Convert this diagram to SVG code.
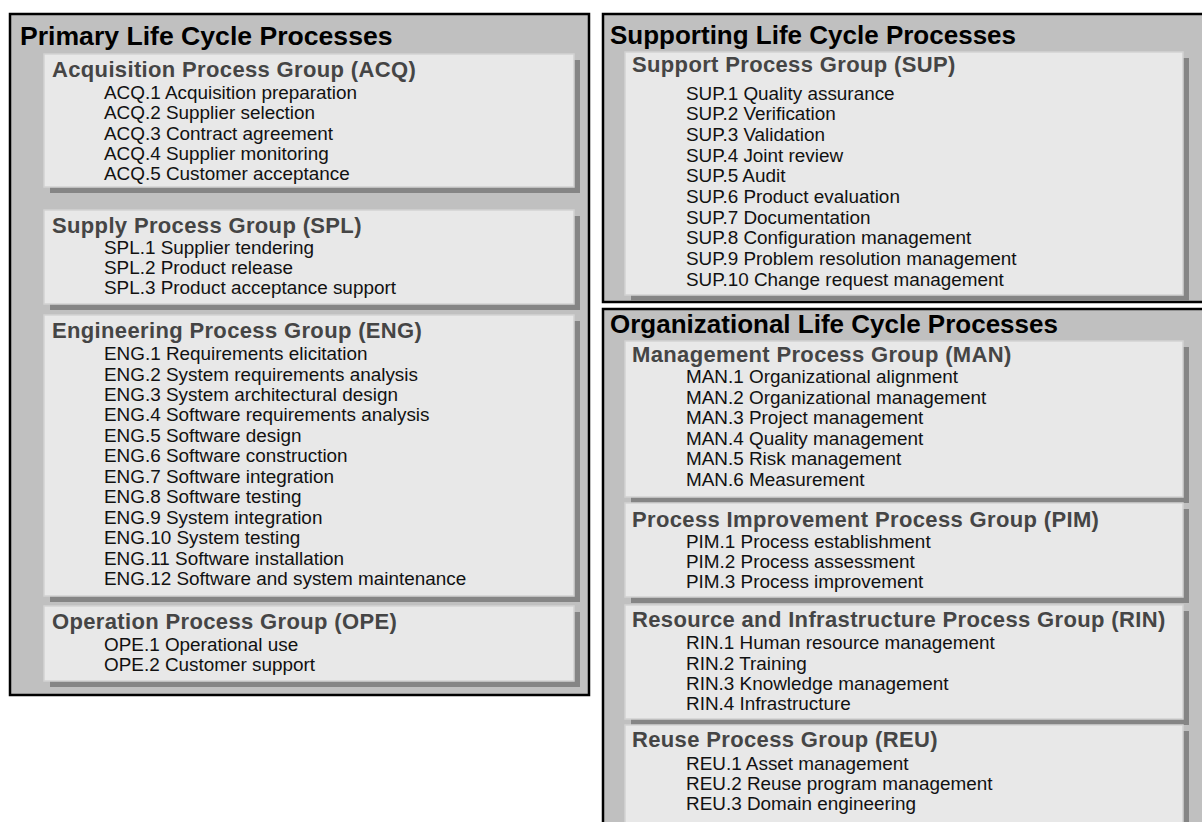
<svg xmlns="http://www.w3.org/2000/svg" width="1202" height="822" viewBox="0 0 1202 822">
<style>
.panel{fill:#c0c0c0;stroke:#000;stroke-width:2.5}
.box{fill:#e8e8e8;stroke:#d2d2d2;stroke-width:1.5}
.shadow{fill:#858585}
.pt{font-family:"Liberation Sans",Arial,sans-serif;font-weight:bold;font-size:26px;fill:#000}
.gt{font-family:"Liberation Sans",Arial,sans-serif;font-weight:bold;font-size:22px;letter-spacing:0.35px;fill:#454545}
.it{font-family:"Liberation Sans",Arial,sans-serif;font-size:18.9px;fill:#111}
</style>
<rect width="1202" height="822" fill="#fff"/>

<g id="primary">
<rect class="panel" x="10" y="14" width="579" height="681"/>
<text class="pt" x="20" y="45" style="font-size:26.6px">Primary Life Cycle Processes</text>
</g>
<g id="acq">
<rect class="shadow" x="50" y="60" width="530" height="133"/>
<rect class="box" x="44" y="54" width="530" height="133"/>
<text class="gt" x="52" y="77">Acquisition Process Group (ACQ)</text>
<text class="it" x="104" y="99">ACQ.1 Acquisition preparation</text>
<text class="it" x="104" y="119.3">ACQ.2 Supplier selection</text>
<text class="it" x="104" y="139.6">ACQ.3 Contract agreement</text>
<text class="it" x="104" y="160">ACQ.4 Supplier monitoring</text>
<text class="it" x="104" y="180.2">ACQ.5 Customer acceptance</text>
</g>
<g id="spl">
<rect class="shadow" x="50" y="216" width="530" height="94"/>
<rect class="box" x="44" y="210" width="530" height="94"/>
<text class="gt" x="52" y="232.5">Supply Process Group (SPL)</text>
<text class="it" x="104" y="254">SPL.1 Supplier tendering</text>
<text class="it" x="104" y="274">SPL.2 Product release</text>
<text class="it" x="104" y="294">SPL.3 Product acceptance support</text>
</g>
<g id="eng">
<rect class="shadow" x="50" y="321" width="530" height="281"/>
<rect class="box" x="44" y="315" width="530" height="281"/>
<text class="gt" x="52" y="338">Engineering Process Group (ENG)</text>
<text class="it" x="104" y="360">ENG.1 Requirements elicitation</text>
<text class="it" x="104" y="380.5">ENG.2 System requirements analysis</text>
<text class="it" x="104" y="400.9">ENG.3 System architectural design</text>
<text class="it" x="104" y="421.4">ENG.4 Software requirements analysis</text>
<text class="it" x="104" y="441.8">ENG.5 Software design</text>
<text class="it" x="104" y="462.3">ENG.6 Software construction</text>
<text class="it" x="104" y="482.7">ENG.7 Software integration</text>
<text class="it" x="104" y="503.2">ENG.8 Software testing</text>
<text class="it" x="104" y="523.6">ENG.9 System integration</text>
<text class="it" x="104" y="544.1">ENG.10 System testing</text>
<text class="it" x="104" y="564.5">ENG.11 Software installation</text>
<text class="it" x="104" y="585">ENG.12 Software and system maintenance</text>
</g>
<g id="ope">
<rect class="shadow" x="50" y="612" width="530" height="75"/>
<rect class="box" x="44" y="606" width="530" height="75"/>
<text class="gt" x="52" y="628.5">Operation Process Group (OPE)</text>
<text class="it" x="104" y="650.5">OPE.1 Operational use</text>
<text class="it" x="104" y="670.7">OPE.2 Customer support</text>
</g>

<g id="supporting">
<rect class="panel" x="603" y="14" width="620" height="288"/>
<text class="pt" x="610" y="44">Supporting Life Cycle Processes</text>
</g>
<g id="sup">
<rect class="shadow" x="631" y="58" width="558" height="243"/>
<rect class="box" x="625" y="52" width="558" height="243"/>
<text class="gt" x="632" y="71.5">Support Process Group (SUP)</text>
<text class="it" x="686" y="99.5">SUP.1 Quality assurance</text>
<text class="it" x="686" y="120.2">SUP.2 Verification</text>
<text class="it" x="686" y="140.8">SUP.3 Validation</text>
<text class="it" x="686" y="161.5">SUP.4 Joint review</text>
<text class="it" x="686" y="182.2">SUP.5 Audit</text>
<text class="it" x="686" y="202.8">SUP.6 Product evaluation</text>
<text class="it" x="686" y="223.5">SUP.7 Documentation</text>
<text class="it" x="686" y="244.2">SUP.8 Configuration management</text>
<text class="it" x="686" y="264.8">SUP.9 Problem resolution management</text>
<text class="it" x="686" y="285.5">SUP.10 Change request management</text>
</g>

<g id="organizational">
<rect class="panel" x="603" y="309" width="620" height="540"/>
<text class="pt" x="610" y="332.5">Organizational Life Cycle Processes</text>
</g>
<g id="man">
<rect class="shadow" x="631" y="347" width="558" height="156"/>
<rect class="box" x="625" y="341" width="558" height="156"/>
<text class="gt" x="632" y="362.3">Management Process Group (MAN)</text>
<text class="it" x="686" y="383.3">MAN.1 Organizational alignment</text>
<text class="it" x="686" y="403.8">MAN.2 Organizational management</text>
<text class="it" x="686" y="424.3">MAN.3 Project management</text>
<text class="it" x="686" y="444.8">MAN.4 Quality management</text>
<text class="it" x="686" y="465.3">MAN.5 Risk management</text>
<text class="it" x="686" y="485.8">MAN.6 Measurement</text>
</g>
<g id="pim">
<rect class="shadow" x="631" y="509" width="558" height="94"/>
<rect class="box" x="625" y="503" width="558" height="94"/>
<text class="gt" x="632" y="526.7">Process Improvement Process Group (PIM)</text>
<text class="it" x="686" y="547.5">PIM.1 Process establishment</text>
<text class="it" x="686" y="567.8">PIM.2 Process assessment</text>
<text class="it" x="686" y="588">PIM.3 Process improvement</text>
</g>
<g id="rin">
<rect class="shadow" x="631" y="611" width="558" height="114"/>
<rect class="box" x="625" y="605" width="558" height="114"/>
<text class="gt" x="632" y="626.7">Resource and Infrastructure Process Group (RIN)</text>
<text class="it" x="686" y="649.3">RIN.1 Human resource management</text>
<text class="it" x="686" y="669.5">RIN.2 Training</text>
<text class="it" x="686" y="689.7">RIN.3 Knowledge management</text>
<text class="it" x="686" y="710">RIN.4 Infrastructure</text>
</g>
<g id="reu">
<rect class="shadow" x="631" y="731" width="558" height="110"/>
<rect class="box" x="625" y="725" width="558" height="110"/>
<text class="gt" x="632" y="746.7">Reuse Process Group (REU)</text>
<text class="it" x="686" y="770">REU.1 Asset management</text>
<text class="it" x="686" y="790.2">REU.2 Reuse program management</text>
<text class="it" x="686" y="810.4">REU.3 Domain engineering</text>
</g>
<g id="connectors"></g>
</svg>
